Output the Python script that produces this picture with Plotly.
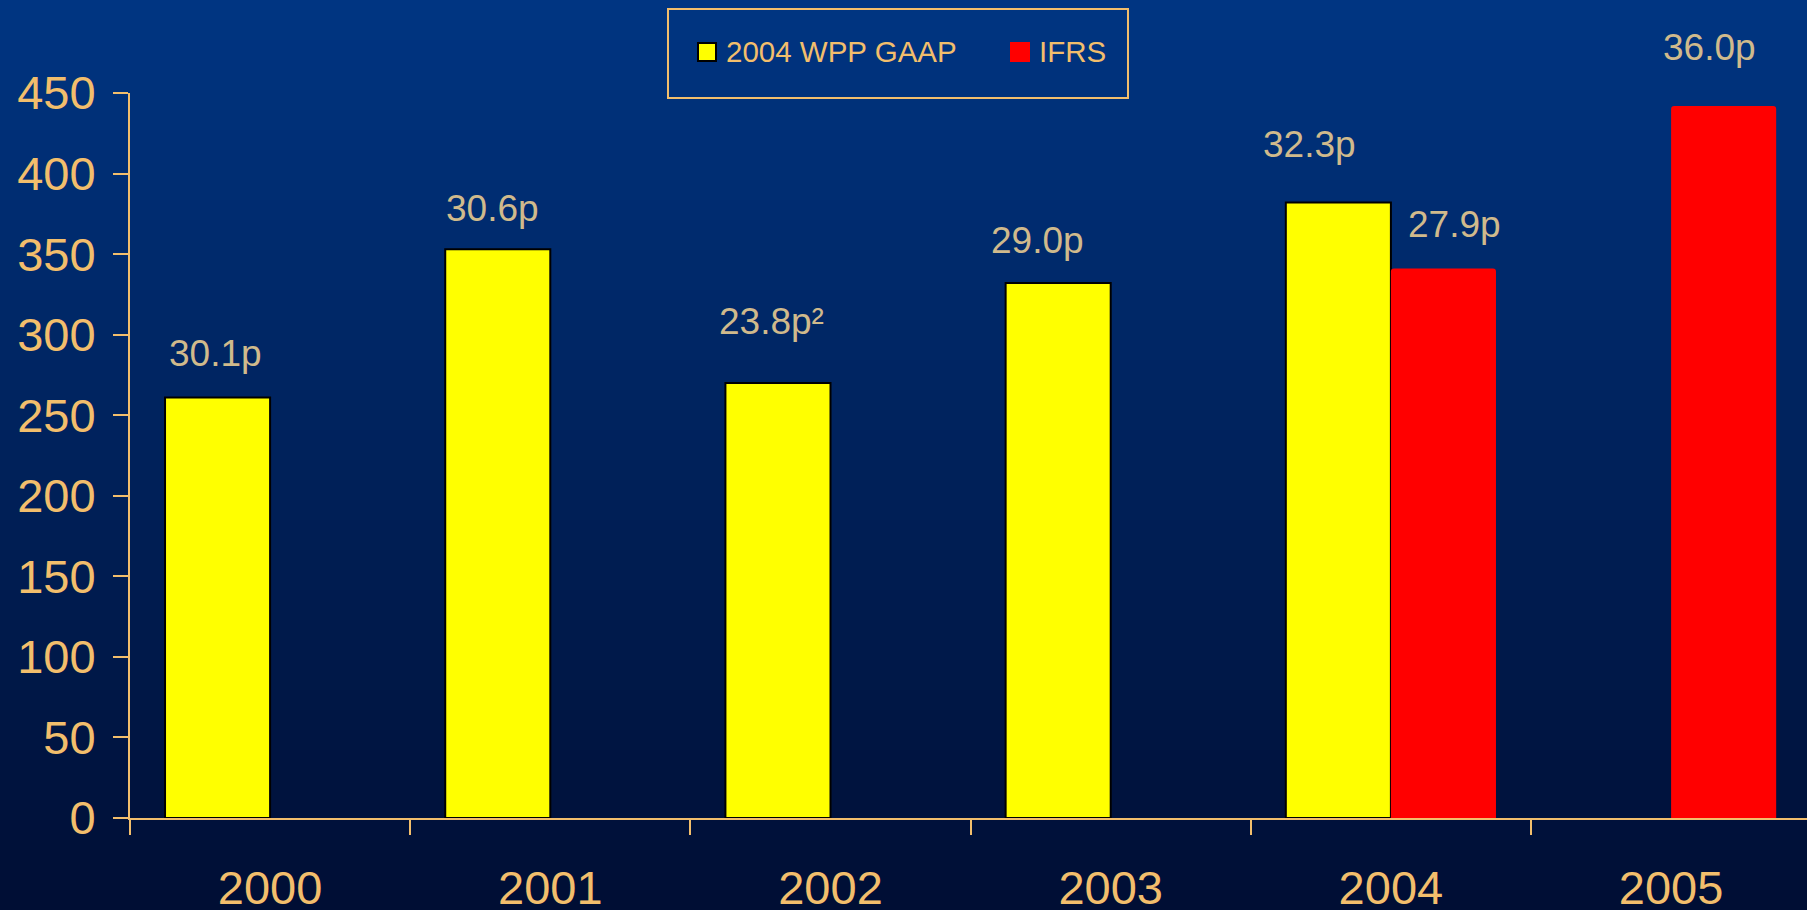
import plotly.graph_objects as go

# ---- data -------------------------------------------------------------
years = ["2000", "2001", "2002", "2003", "2004", "2005"]
gaap_values = [261, 353, 270, 332, 382, None]
ifrs_values = [None, None, None, None, 341, 442]
gaap_eps = ["30.1p", "30.6p", "23.8p²", "29.0p", "32.3p", None]
ifrs_eps = [None, None, None, None, "27.9p", "36.0p"]
series_names = ["2004 WPP GAAP", "IFRS"]
y_ticks = [0, 50, 100, 150, 200, 250, 300, 350, 400, 450]

# ---- styling ----------------------------------------------------------
W, H = 1807, 910
M_L, M_R, M_T, M_B = 130, 0, 93, 92
CAT_PX = 280.2                      # pixel width of one category slot
BARGAP = 0.25
GOLD = "#F2BE6C"
LABEL_COL = "#D0BA8C"
YELLOW = "#FFFF00"
RED = "#FF0000"
FONT = "Liberation Sans, Arial, sans-serif"
TOP_RGB = (0, 53, 130)
BOT_RGB = (0, 14, 52)

# per-label nudges in pixels (dx, dy above bar top)
gaap_nudge = [(-2, 46), (-5, 43), (-6, 64), (-21, 45), (-29, 60), (0, 0)]
ifrs_nudge = [(0, 0), (0, 0), (0, 0), (0, 0), (11, 46), (-14, 60)]

plot_w = W - M_L - M_R
plot_h = H - M_T - M_B


def px_to_paper(px, py):
    return (px - M_L) / plot_w, (H - M_B - py) / plot_h


fig = go.Figure()
fig.add_trace(go.Bar(
    x=years, y=gaap_values, name=series_names[0],
    marker=dict(color=YELLOW, line=dict(color="#000000", width=2)),
    showlegend=False, hoverinfo="x+y",
))
fig.add_trace(go.Bar(
    x=years, y=ifrs_values, name=series_names[1],
    marker=dict(color=RED, line=dict(width=0), cornerradius=3),
    showlegend=False, hoverinfo="x+y",
))

# vertical gradient background built from thin strips
shapes = []
n_strips = 91
for k in range(n_strips):
    t = k / (n_strips - 1)
    r = round(TOP_RGB[0] + (BOT_RGB[0] - TOP_RGB[0]) * t)
    g = round(TOP_RGB[1] + (BOT_RGB[1] - TOP_RGB[1]) * t)
    b = round(TOP_RGB[2] + (BOT_RGB[2] - TOP_RGB[2]) * t)
    y0 = H * k / n_strips
    y1 = H * (k + 1) / n_strips + 1
    x0p, y0p = px_to_paper(0, y0)
    x1p, y1p = px_to_paper(W, y1)
    shapes.append(dict(type="rect", xref="paper", yref="paper",
                       x0=x0p, x1=x1p, y0=y1p, y1=y0p,
                       fillcolor=f"rgb({r},{g},{b})", line=dict(width=0),
                       layer="below"))

# legend frame and swatches
lx0, ly0 = px_to_paper(668, 9)
lx1, ly1 = px_to_paper(1128, 98)
shapes.append(dict(type="rect", xref="paper", yref="paper",
                   x0=lx0, x1=lx1, y0=ly1, y1=ly0,
                   line=dict(color=GOLD, width=2), fillcolor="rgba(0,0,0,0)"))
sx0, sy0 = px_to_paper(698, 43)
sx1, sy1 = px_to_paper(716, 61)
shapes.append(dict(type="rect", xref="paper", yref="paper",
                   x0=sx0, x1=sx1, y0=sy1, y1=sy0,
                   fillcolor=YELLOW, line=dict(color="#000000", width=2)))
rx0, ry0 = px_to_paper(1010, 42)
rx1, ry1 = px_to_paper(1030, 62)
shapes.append(dict(type="rect", xref="paper", yref="paper",
                   x0=rx0, x1=rx1, y0=ry1, y1=ry0,
                   fillcolor=RED, line=dict(width=0)))

annotations = []
tx, ty = px_to_paper(724, 51)
annotations.append(dict(xref="paper", yref="paper", x=tx, y=ty,
                        text=series_names[0], showarrow=False,
                        xanchor="left", yanchor="middle",
                        font=dict(family=FONT, size=29.5, color=GOLD)))
tx, ty = px_to_paper(1037, 51)
annotations.append(dict(xref="paper", yref="paper", x=tx, y=ty,
                        text=series_names[1], showarrow=False,
                        xanchor="left", yanchor="middle",
                        font=dict(family=FONT, size=29.5, color=GOLD)))

# value labels above bars
bar_w = (1 - BARGAP) / 2
for series_vals, labels, nudges, off in (
        (gaap_values, gaap_eps, gaap_nudge, -bar_w / 2),
        (ifrs_values, ifrs_eps, ifrs_nudge, bar_w / 2)):
    for i, (v, lab, (dx, dy)) in enumerate(zip(series_vals, labels, nudges)):
        if v is None or lab is None:
            continue
        annotations.append(dict(
            x=i + off, y=v, xref="x", yref="y", text=lab, showarrow=False,
            xanchor="center", yanchor="middle", xshift=dx, yshift=dy - 2,
            font=dict(family=FONT, size=37, color=LABEL_COL)))

fig.update_layout(
    width=W, height=H,
    margin=dict(l=M_L, r=M_R, t=M_T, b=M_B, pad=0, autoexpand=False),
    paper_bgcolor=f"rgb{BOT_RGB}",
    plot_bgcolor="rgba(0,0,0,0)",
    barmode="group", bargap=BARGAP, bargroupgap=0,
    shapes=shapes, annotations=annotations,
    font=dict(family=FONT, color=GOLD),
    xaxis=dict(
        type="category", range=[-0.5, -0.5 + plot_w / CAT_PX],
        automargin=False,
        showline=True, linecolor=GOLD, linewidth=2,
        ticks="outside", tickson="boundaries", ticklen=15,
        tickwidth=2, tickcolor=GOLD, showgrid=False, zeroline=False,
        tickfont=dict(family=FONT, size=47, color=GOLD),
        ticklabelstandoff=28,
    ),
    yaxis=dict(
        range=[0, 450], tickvals=y_ticks,
        automargin=False,
        showline=True, linecolor=GOLD, linewidth=2,
        ticks="outside", ticklen=15, tickwidth=2, tickcolor=GOLD,
        showgrid=False, zeroline=False,
        tickfont=dict(family=FONT, size=47, color=GOLD),
        ticklabelstandoff=8,
    ),
)

fig.write_html("out.html")
